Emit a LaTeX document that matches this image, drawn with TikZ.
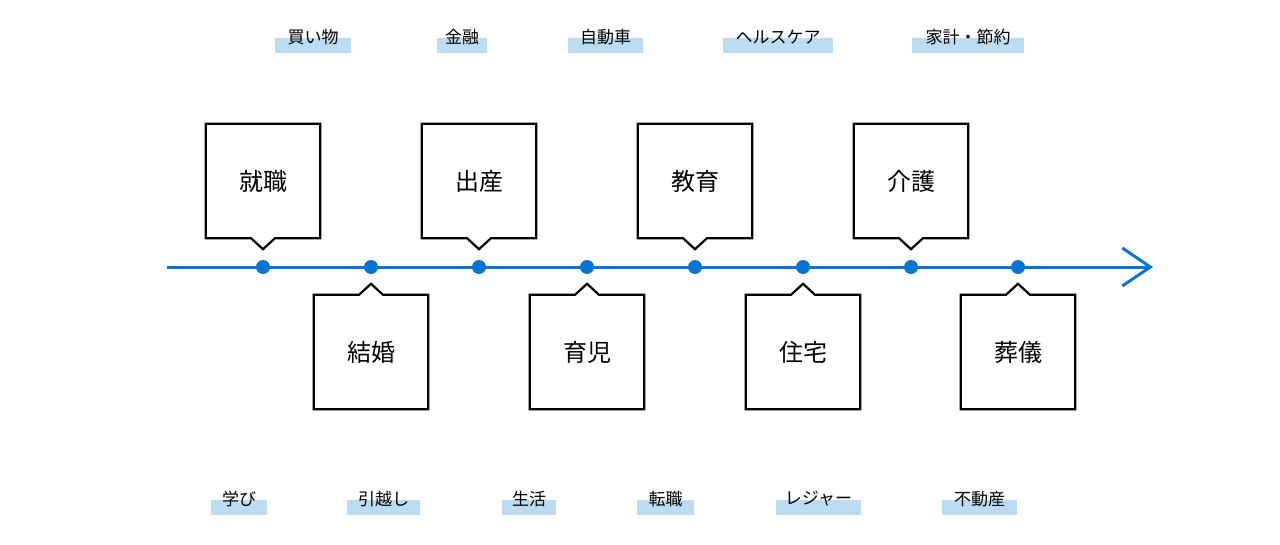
\documentclass[tikz,border=0pt]{standalone}
\usepackage{fontspec}
\setmainfont{Noto Sans CJK JP}
\usetikzlibrary{arrows.meta}
\definecolor{blu}{HTML}{0A74D4}
\definecolor{tag}{HTML}{BCDCF4}
\begin{document}
\begin{tikzpicture}[x=1pt,y=-1pt,
  box/.style={minimum width=114pt,minimum height=114pt,inner sep=0pt,font=\fontsize{24}{24}\selectfont},
  dot/.style={circle,fill=blu,minimum size=14pt,inner sep=0pt},
  tagt/.style={font=\fontsize{17}{17}\selectfont,inner sep=0pt}]
\useasboundingbox (0,0) rectangle (1280,544);
\def\tagb#1#2#3#4#5{\fill[tag] (#2,#4) rectangle (#3,#4+15);\node[tagt] (#5) at ({(#2+#3)/2},#4-1) {#1};}
\tagb{買い物}{275}{351}{38}{t1}
\tagb{金融}{437}{487}{38}{t2}
\tagb{自動車}{568}{643}{38}{t3}
\tagb{ヘルスケア}{723}{833}{38}{t4}
\tagb{家計・節約}{912}{1024}{38}{t5}
\tagb{学び}{211}{267}{500}{b1}
\tagb{引越し}{347}{420}{500}{b2}
\tagb{生活}{502}{556}{500}{b3}
\tagb{転職}{637}{694}{500}{b4}
\tagb{レジャー}{776}{861}{500}{b5}
\tagb{不動産}{942}{1017}{500}{b6}
\coordinate (s) at (167,267);
\coordinate (e) at (1153,267);
\draw[blu,line width=3pt,-{Straight Barb[length=28pt,width=38pt,line width=3pt]}] (s) -- (e);
\foreach \x/\n in {263/d1,371/d2,479/d3,587/d4,695/d5,803/d6,911/d7,1018/d8}
  \node[dot] (\n) at (\x,267) {};
\foreach \x/\n/\t in {263/u1/就職,479/u2/出産,695/u3/教育,911/u4/介護}{
  \node[box] (\n) at (\x,181) {\t};
  \draw[line width=2.2pt,line join=miter] (\n.north west) -- (\n.north east) -- (\n.south east) -- ([xshift=12pt]\n.south) -- ([yshift=-11pt]\n.south) -- ([xshift=-12pt]\n.south) -- (\n.south west) -- cycle;}
\foreach \x/\n/\t in {371/l1/結婚,587/l2/育児,803/l3/住宅,1018/l4/葬儀}{
  \node[box] (\n) at (\x,352) {\t};
  \draw[line width=2.2pt,line join=miter] (\n.south west) -- (\n.south east) -- (\n.north east) -- ([xshift=12pt]\n.north) -- ([yshift=11pt]\n.north) -- ([xshift=-12pt]\n.north) -- (\n.north west) -- cycle;}
\end{tikzpicture}
\end{document}
